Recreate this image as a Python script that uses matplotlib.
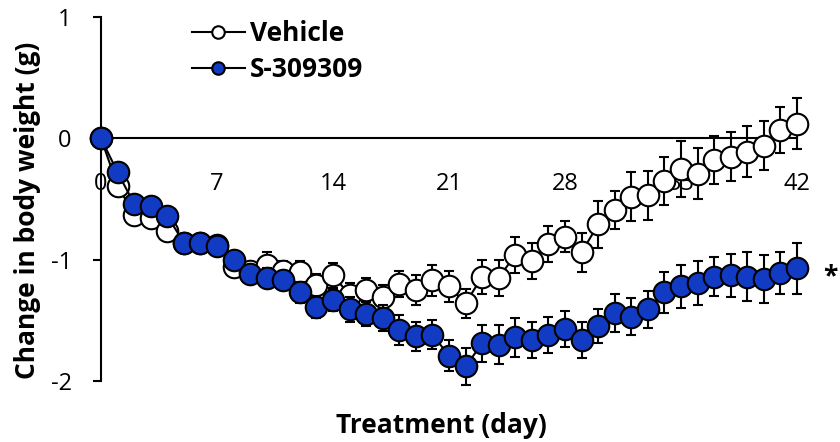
import numpy as np
import matplotlib
matplotlib.use("Agg")
import matplotlib.pyplot as plt
from matplotlib.lines import Line2D

plt.rcParams['font.family'] = ['Open Sans', 'DejaVu Sans']

days = np.arange(0, 43)

vehicle_mean = [0, -0.39, -0.63, -0.66, -0.76, -0.86, -0.86, -0.88, -1.06, -1.09,
                -1.04, -1.09, -1.10, -1.21, -1.13, -1.29, -1.25, -1.31, -1.20, -1.25,
                -1.17, -1.22, -1.36, -1.14, -1.15, -0.96, -1.01, -0.87, -0.81, -0.94,
                -0.71, -0.59, -0.48, -0.47, -0.35, -0.25, -0.29, -0.18, -0.15, -0.11,
                -0.06, 0.07, 0.12]
vehicle_sem = [0, 0.04, 0.05, 0.05, 0.05, 0.05, 0.05, 0.05, 0.06, 0.07,
               0.10, 0.08, 0.09, 0.09, 0.10, 0.10, 0.10, 0.10, 0.11, 0.12,
               0.13, 0.13, 0.12, 0.14, 0.15, 0.15, 0.15, 0.15, 0.13, 0.16,
               0.19, 0.16, 0.20, 0.20, 0.20, 0.23, 0.21, 0.20, 0.20, 0.21,
               0.20, 0.19, 0.21]

drug_mean = [0, -0.28, -0.54, -0.56, -0.64, -0.86, -0.86, -0.89, -1.00, -1.12,
             -1.15, -1.17, -1.27, -1.39, -1.33, -1.41, -1.45, -1.48, -1.58, -1.63,
             -1.62, -1.79, -1.88, -1.69, -1.70, -1.64, -1.66, -1.62, -1.57, -1.66,
             -1.55, -1.44, -1.47, -1.41, -1.27, -1.22, -1.19, -1.14, -1.13, -1.14,
             -1.16, -1.11, -1.07]
drug_sem = [0, 0.04, 0.05, 0.05, 0.05, 0.05, 0.05, 0.05, 0.06, 0.07,
            0.08, 0.08, 0.09, 0.09, 0.09, 0.10, 0.10, 0.11, 0.12, 0.12,
            0.12, 0.13, 0.15, 0.15, 0.16, 0.16, 0.15, 0.15, 0.15, 0.15,
            0.14, 0.16, 0.15, 0.15, 0.17, 0.18, 0.18, 0.16, 0.18, 0.20,
            0.20, 0.17, 0.21]

xticks = [0, 7, 14, 21, 28, 35, 42]
yticks = [-2, -1, 0, 1]
blue = '#123BC4'

fig = plt.figure(figsize=(8.4, 4.42), dpi=100)
ax = fig.add_axes([101/840, 1-381/442, 696/840, 364/442])

# vehicle first, drug on top
ax.errorbar(days, vehicle_mean, yerr=vehicle_sem, fmt='none', ecolor='black',
            elinewidth=1.5, capsize=3.6, capthick=1.5, zorder=2.0, clip_on=False)
ax.plot(days, vehicle_mean, color='black', lw=1.5, marker='o', ms=15.5,
        mfc='white', mec='black', mew=1.5, zorder=2.1, clip_on=False)
ax.errorbar(days, drug_mean, yerr=drug_sem, fmt='none', ecolor='black',
            elinewidth=1.5, capsize=3.6, capthick=1.5, zorder=2.2, clip_on=False)
ax.plot(days, drug_mean, color='black', lw=1.5, marker='o', ms=15.5,
        mfc=blue, mec='black', mew=1.5, zorder=2.3, clip_on=False)

ax.set_xlim(0, 42)
ax.set_ylim(-2, 1)
ax.set_axisbelow(True)

for s in ['top', 'right']:
    ax.spines[s].set_visible(False)
ax.spines['bottom'].set_position(('data', 0))
for s in ['left', 'bottom']:
    ax.spines[s].set_linewidth(1.5)
    ax.spines[s].set_zorder(1)

ax.set_xticks(xticks)
ax.set_yticks(yticks)
ax.set_yticklabels([str(v) for v in yticks])
ax.tick_params(axis='x', length=0, pad=24, labelsize=17)
ax.tick_params(axis='y', direction='out', length=6, width=1.5, pad=15, labelsize=17)

ax.annotate('*', xy=(42, drug_mean[-1]), xytext=(24, -6), textcoords='offset points',
            ha='center', va='center', fontsize=19, fontweight='bold')

fig.text(28/840, 1-210/442, 'Change in body weight (g)', rotation=90,
         ha='center', va='center', fontsize=19, fontweight='bold')
fig.text(441/840, 1-433/442, 'Treatment (day)', ha='center', va='baseline',
         fontsize=19, fontweight='bold')

handles = [Line2D([], [], color='black', lw=1.5, marker='o', ms=9, mfc='white', mec='black', mew=1.5),
           Line2D([], [], color='black', lw=1.5, marker='o', ms=9, mfc=blue, mec='black', mew=1.5)]
leg = ax.legend(handles, ['Vehicle', 'S-309309'], loc='upper left',
                bbox_to_anchor=(192/840, 1-20/442), bbox_transform=fig.transFigure,
                frameon=False, borderpad=0, borderaxespad=0, handlelength=2.0,
                handletextpad=0.2, labelspacing=0.35,
                prop={'size': 19, 'weight': 'bold'})

fig.savefig('out.png', dpi=100)
